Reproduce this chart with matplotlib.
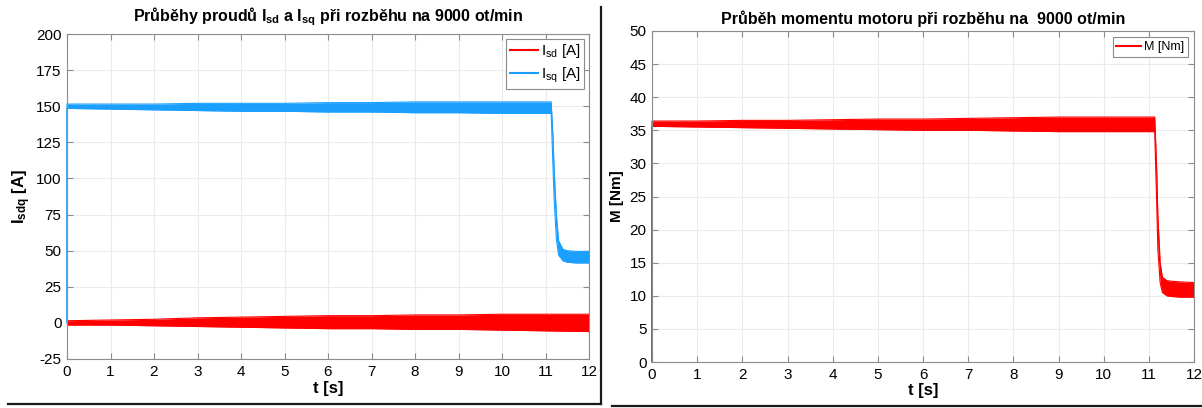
import numpy as np
import matplotlib
matplotlib.use('Agg')
import matplotlib.pyplot as plt
from matplotlib.lines import Line2D

plt.rcParams['font.family'] = ['Liberation Sans', 'DejaVu Sans']
plt.rcParams['mathtext.fontset'] = 'custom'
plt.rcParams['mathtext.rm'] = 'Liberation Sans'
plt.rcParams['mathtext.it'] = 'Liberation Sans'
plt.rcParams['mathtext.bf'] = 'Liberation Sans:bold'
plt.rcParams['axes.unicode_minus'] = False

# envelopes of the noisy signals
isq_t = [0, 0, 1, 2, 3, 4, 5, 6, 7, 8, 9, 10, 11, 11.13, 11.17, 11.2, 11.25, 11.3, 11.4, 11.5, 11.7, 12]
isq_hi = [0, 151.5, 151.5, 151.5, 152, 152, 152, 152.5, 152.5, 153, 153, 153, 153, 153, 130, 105, 75, 57, 51, 50, 49.5, 49.5]
isq_lo = [0, 148.5, 148, 147.5, 147, 146.5, 146.5, 146, 146, 145.5, 145.5, 145, 145, 145, 110, 85, 58, 47, 43, 42, 41.5, 41.5]

isd_t = [0, 1, 2, 3, 4, 5, 6, 7, 8, 9, 10, 11, 12]
isd_hi = [1.5, 2, 2.5, 3.5, 4, 4.5, 5, 5, 5.5, 5.5, 6, 6, 6]
isd_lo = [-1.5, -1.5, -2, -2.5, -3, -3.5, -4, -4, -4.5, -4.5, -5, -5.5, -6]

m_t = [0, 0, 1, 2, 3, 4, 5, 6, 7, 8, 9, 10, 11, 11.13, 11.17, 11.2, 11.25, 11.3, 11.4, 11.5, 11.7, 12]
m_hi = [0, 36.4, 36.4, 36.5, 36.5, 36.6, 36.7, 36.7, 36.8, 36.9, 37, 37, 37, 37, 30, 22, 15, 12.8, 12.3, 12.2, 12.1, 12]
m_lo = [0, 35.6, 35.5, 35.4, 35.3, 35.2, 35.1, 35, 35, 34.9, 34.8, 34.8, 34.8, 34.8, 25, 17, 12, 10.5, 10, 9.9, 9.8, 9.8]

red = '#ff0000'
blue = '#1a9fff'

fig = plt.figure(figsize=(12.02, 4.08), dpi=100)
ax1 = fig.add_axes([67/1202, 1-359/408, 522/1202, 325/408])
ax2 = fig.add_axes([652/1202, 1-362/408, 542/1202, 331/408])


def style(ax):
    ax.grid(True, color='#ebebeb', lw=0.8)
    ax.set_axisbelow(True)
    for s in ax.spines.values():
        s.set_color('#8c8c8c')
        s.set_linewidth(0.8)
    ax.tick_params(direction='in', length=4, top=True, right=True,
                   color='#8c8c8c', labelsize=11, pad=4)
    ax.set_xlim(0, 12)
    ax.set_xticks(range(0, 13))


# left panel
ax1.fill_between(isd_t, isd_lo, isd_hi, color=red, lw=0)
ax1.plot(isd_t, isd_hi, color=red, lw=0.8)
ax1.plot(isd_t, isd_lo, color=red, lw=0.8)
ax1.fill_between(isq_t, isq_lo, isq_hi, color=blue, lw=0)
ax1.plot(isq_t, isq_hi, color=blue, lw=0.8, clip_on=False)
ax1.plot(isq_t, isq_lo, color=blue, lw=0.8, clip_on=False)
style(ax1)
ax1.set_ylim(-25, 200)
ax1.set_yticks(range(-25, 201, 25))
ax1.set_title(r'Průběhy proudů I$_{\mathbf{sd}}$ a I$_{\mathbf{sq}}$ při rozběhu na 9000 ot/min',
              fontsize=11.5, fontweight='bold', pad=9)
ax1.set_xlabel('t [s]', fontsize=12, fontweight='bold', labelpad=2)
ax1.set_ylabel(r'I$_{\mathbf{sdq}}$ [A]', fontsize=12, fontweight='bold', labelpad=2)
h1 = [Line2D([], [], color=red, lw=1.5), Line2D([], [], color=blue, lw=1.5)]
leg = ax1.legend(h1, [r'I$_{\mathregular{sd}}$ [A]', r'I$_{\mathregular{sq}}$ [A]'],
                 loc='upper right', fontsize=11, fancybox=False, framealpha=1,
                 handlelength=1.8, handletextpad=0.2, borderpad=0.25,
                 labelspacing=0.35, borderaxespad=0.3)
leg.get_frame().set_edgecolor('#8c8c8c')
leg.get_frame().set_linewidth(0.8)

# right panel
ax2.fill_between(m_t, m_lo, m_hi, color=red, lw=0)
ax2.plot(m_t, m_hi, color=red, lw=0.8, clip_on=False)
ax2.plot(m_t, m_lo, color=red, lw=0.8, clip_on=False)
style(ax2)
ax2.set_ylim(0, 50)
ax2.set_yticks(range(0, 51, 5))
ax2.set_title('Průběh momentu motoru při rozběhu na  9000 ot/min',
              fontsize=11.5, fontweight='bold', pad=5)
ax2.set_xlabel('t [s]', fontsize=12, fontweight='bold', labelpad=1)
ax2.set_ylabel('M [Nm]', fontsize=11, fontweight='bold', labelpad=4)
leg2 = ax2.legend([Line2D([], [], color=red, lw=1.5)], ['M [Nm]'],
                  loc='upper right', fontsize=9, fancybox=False, framealpha=1,
                  handlelength=2.0, handletextpad=0.2, borderpad=0.3,
                  borderaxespad=0.5)
leg2.get_frame().set_edgecolor('#8c8c8c')
leg2.get_frame().set_linewidth(0.8)

# separator lines of the composed picture
fig.add_artist(Line2D([601/1202, 601/1202], [1-404/408, 1-7/408], color='#1a1a1a', lw=1.6))
fig.add_artist(Line2D([8/1202, 601/1202], [1-404/408, 1-404/408], color='#1a1a1a', lw=1.6))
fig.add_artist(Line2D([612/1202, 1.0], [1-406/408, 1-406/408], color='#1a1a1a', lw=1.6))

fig.savefig('out.png', dpi=100)
